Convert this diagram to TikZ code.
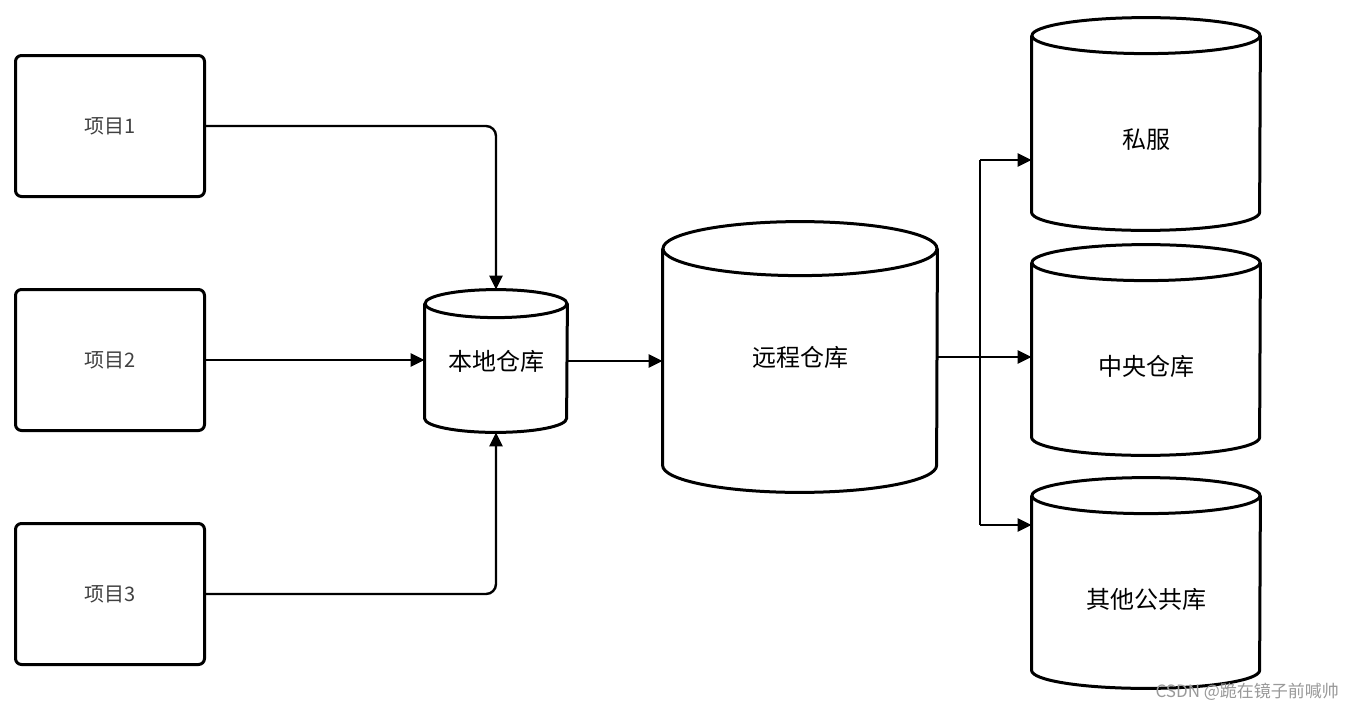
\documentclass[tikz,border=0pt]{standalone}
\usepackage{fontspec}
\setmainfont{Noto Sans CJK SC}
\usepackage{tikz}
\usetikzlibrary{positioning, arrows.meta, calc}

\tikzset{
  proj/.style={draw, line width=1.5pt, rounded corners=3pt, minimum width=94.5pt, minimum height=70.5pt, text=black!75, font=\fontsize{10}{12}\selectfont},
  repo/.style={inner sep=0pt, font=\fontsize{12}{14}\selectfont},
  repolab/.style={label={[yshift=-8pt, font=\fontsize{12}{14}\selectfont]center:#1}},
  wall/.style={line width=1.5pt},
  link/.style={line width=1.2pt, rounded corners=5pt},
  arr/.style={link, -{Triangle[length=7pt, width=6.5pt]}}
}

\begin{document}
\begin{tikzpicture}[x=0.5pt, y=-0.5pt]
        \useasboundingbox (0,0) rectangle (1360,712);

        % Projects
        \node[proj] (p1) at (110,126) {项目1};
        \node[proj] (p2) at (110,360) {项目2};
        \node[proj] (p3) at (110,594) {项目3};

        % Repositories (outline drawn below)
        \node[repo, minimum width=71pt, minimum height=71pt] (loc) at (496,361) {本地仓库};
        \node[repo, minimum width=137pt, minimum height=135pt] (rem) at (800,357) {远程仓库};
        \node[repo, minimum width=114pt, minimum height=106pt, repolab=私服] (s1) at (1146,124) {};
        \node[repo, minimum width=114pt, minimum height=105pt, repolab=中央仓库] (s2) at (1146,350) {};
        \node[repo, minimum width=114pt, minimum height=105pt, repolab=其他公共库] (s3) at (1146,583) {};

        % Cylinders
        \foreach \n/\r/\w in {loc/7pt/35.5pt, rem/13.5pt/68.5pt, s1/9pt/57pt, s2/9pt/57pt, s3/9pt/57pt} {
          \draw[wall] ([yshift=-\r]\n.north west) -- ([yshift=\r]\n.south west)
            arc[start angle=180, end angle=360, x radius=\w, y radius=\r]
            -- ([yshift=-\r]\n.north east);
          \draw[wall] ([yshift=-\r]\n.north) ellipse [x radius=\w, y radius=\r];
        }

        % Project arrows
        \draw[arr] (p1.east) -| (loc.north);
        \draw[arr] (p2.east) -- (p2.east -| loc.west);
        \draw[arr] (p3.east) -| (loc.south);
        \draw[arr] (loc.east) -- (loc.east -| rem.west);

        % Branch to the remote repositories
        \coordinate (bus) at (980,357);
        \draw[link] (rem.east) -- (bus);
        \draw[link] (bus |- 0,160) -- (bus |- 0,525);
        \draw[arr] (bus |- 0,160) -- (s1.west |- 0,160);
        \draw[arr] (bus) -- (bus -| s2.west);
        \draw[arr] (bus |- 0,525) -- (s3.west |- 0,525);

        % Watermark
        \node[text=black!40, font=\fontsize{8.5}{10}\selectfont, anchor=east] (mark) at (1346,692) {CSDN @跪在镜子前喊帅};
    \end{tikzpicture}
\end{document}
